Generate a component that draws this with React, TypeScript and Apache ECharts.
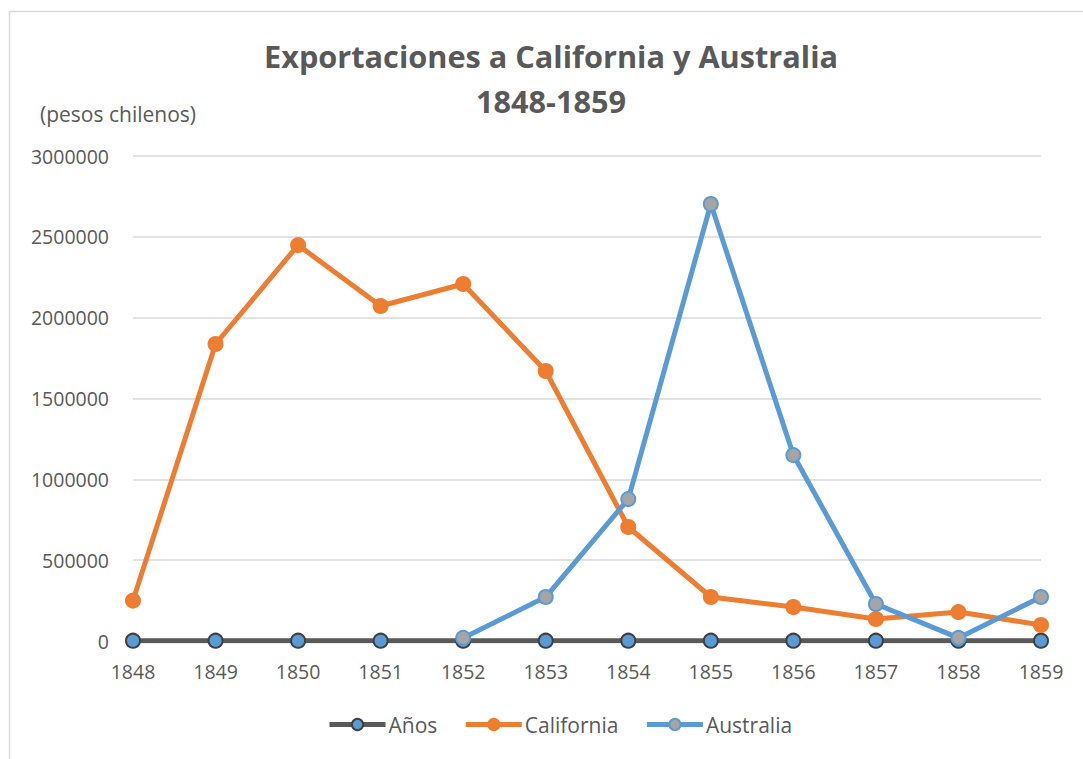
import React, { useEffect, useRef } from "react";
import * as echarts from "echarts";

const years = ["1848", "1849", "1850", "1851", "1852", "1853", "1854", "1855", "1856", "1857", "1858", "1859"];
const anos = [1848, 1849, 1850, 1851, 1852, 1853, 1854, 1855, 1856, 1857, 1858, 1859];
const california = [250000, 1837000, 2449000, 2072000, 2208000, 1670000, 705000, 272000, 210000, 136000, 179000, 99000];
const australia = [null, null, null, null, 19000, 272000, 878000, 2703000, 1150000, 229000, 19000, 272000];

const FONT = "'Open Sans', 'Noto Sans', sans-serif";
const GREY = "#595959";

export default function App() {
  const ref = useRef<HTMLDivElement>(null);
  useEffect(() => {
    const chart = echarts.init(ref.current!, null, { renderer: "svg" });
    const titleStyle = {
      fontFamily: FONT,
      fontSize: 30.7,
      fontWeight: "bold",
      fill: GREY,
      align: "center",
      verticalAlign: "middle",
    };
    chart.setOption({
      animation: false,
      backgroundColor: "#ffffff",
      textStyle: { fontFamily: FONT },
      graphic: [
        {
          type: "rect",
          shape: { x: 9.5, y: 11.5, width: 1200, height: 900 },
          style: { fill: "none", stroke: "#d9d9d9", lineWidth: 1.5 },
          silent: true,
        },
        {
          type: "text",
          x: 551,
          y: 56,
          style: { ...titleStyle, text: "Exportaciones a California y Australia" },
        },
        {
          type: "text",
          x: 551,
          y: 101,
          style: { ...titleStyle, text: "1848-1859" },
        },
        {
          type: "text",
          left: 40,
          top: 103,
          style: { text: "(pesos chilenos)", fontFamily: FONT, fontSize: 21, fill: GREY },
        },
      ],
      legend: {
        bottom: 19,
        left: 322,
        itemWidth: 56,
        itemHeight: 14,
        itemGap: 26,
        lineStyle: { width: 5 },
        textStyle: { fontFamily: FONT, fontSize: 21, color: GREY, padding: [0, 0, 0, -2] },
        data: ["Años", "California", "Australia"],
      },
      grid: { left: 133, right: 42, top: 156, bottom: 118, containLabel: false },
      xAxis: {
        type: "category",
        data: years,
        boundaryGap: false,
        axisLine: { show: false },
        axisTick: { show: false },
        axisLabel: { fontFamily: FONT, fontSize: 19.5, color: GREY, margin: 20 },
        splitLine: { show: false },
      },
      yAxis: {
        type: "value",
        min: 0,
        max: 3000000,
        interval: 500000,
        axisLine: { show: false },
        axisTick: { show: false },
        axisLabel: {
          fontFamily: FONT,
          fontSize: 19.5,
          color: GREY,
          margin: 24,
          formatter: (v: number) => String(v),
        },
        splitLine: { lineStyle: { color: "#d9d9d9", width: 1.5 } },
      },
      series: [
        {
          name: "Años",
          type: "line",
          data: anos,
          symbol: "circle",
          symbolSize: 14,
          lineStyle: { color: "#595959", width: 5 },
          itemStyle: { color: "#5b9bd5", borderColor: "#404040", borderWidth: 2 },
        },
        {
          name: "California",
          type: "line",
          data: california,
          symbol: "circle",
          symbolSize: 14,
          lineStyle: { color: "#ed7d31", width: 5 },
          itemStyle: { color: "#ed7d31", borderColor: "#ed7d31", borderWidth: 2 },
        },
        {
          name: "Australia",
          type: "line",
          data: australia,
          symbol: "circle",
          symbolSize: 14,
          lineStyle: { color: "#5b9bd5", width: 5 },
          itemStyle: { color: "#a5a5a5", borderColor: "#5b9bd5", borderWidth: 2 },
        },
      ],
    });
    return () => chart.dispose();
  }, []);
  return (
    <div
      ref={ref}
      style={{ position: "fixed", left: 0, top: 0, width: 1083, height: 759 }}
    />
  );
}
